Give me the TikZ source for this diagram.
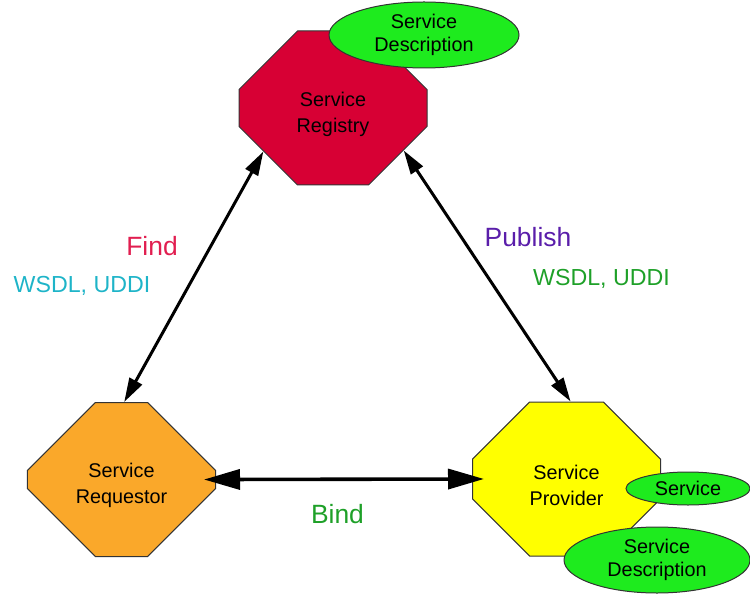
\documentclass[tikz,border=0pt]{standalone}
\usepackage{fontspec}
\setmainfont{Liberation Sans}
\usepackage{tikz}
\usetikzlibrary{shapes.misc,shapes.geometric,arrows.meta}

\definecolor{regred}{RGB}{215,0,52}
\definecolor{reqorange}{RGB}{250,168,42}
\definecolor{provyellow}{RGB}{255,255,0}
\definecolor{descgreen}{RGB}{30,235,30}
\definecolor{findred}{RGB}{225,30,80}
\definecolor{wsdlcyan}{RGB}{30,180,200}
\definecolor{pubpurple}{RGB}{90,30,170}
\definecolor{bindgreen}{RGB}{30,160,40}

% the octagon keeps its shape from a blank two-line box, the text sits in a label
\newcommand{\octabox}[1]{\phantom{Service}\\\phantom{#1}}

\tikzset{
  octa/.style={chamfered rectangle, chamfered rectangle xsep=13.75mm,
    chamfered rectangle ysep=12mm, draw=black!80, line width=0.25mm,
    minimum width=47mm, minimum height=38.5mm, inner sep=0pt, align=center,
    font=\fontsize{14.1}{18.4}\selectfont},
  octatext/.style={align=center, yshift=-1.5mm,
    font=\fontsize{14.1}{18.4}\selectfont},
  desc/.style={ellipse, draw=black!80, line width=0.25mm, fill=descgreen,
    inner sep=0pt, align=center, font=\fontsize{14.1}{16}\selectfont},
  link/.style={line width=0.75mm,
    {Triangle[length=6mm,width=3.5mm]}-{Triangle[length=6mm,width=3.5mm]}},
  bindlink/.style={line width=0.9mm, shorten <=-3mm, shorten >=-3mm,
    {Triangle[length=9mm,width=5mm]}-{Triangle[length=9mm,width=5mm]}},
  verb/.style={anchor=base, font=\fontsize{18.8}{22}\selectfont},
  proto/.style={anchor=base, font=\fontsize{16.5}{20}\selectfont}
}

\begin{document}
\begin{tikzpicture}
  [
    x=0.25mm,
    y=0.25mm
  ]
    \path[use as bounding box] (0,0) rectangle (750,599);
    %\draw (0,0) rectangle (750,599);
    \node[octa, fill=regred, label={[octatext]center:Service\\Registry}] (registry) at (333,491) {\octabox{Registry}};
    \node[octa, fill=reqorange, label={[octatext]center:Service\\Requestor}] (requestor) at (121.5,119.5) {\octabox{Requestor}};
    \node[octa, fill=provyellow, label={[octatext]center:Service\\Provider}] (provider) at (566.5,120) {\octabox{Provider}};
    \node[desc, minimum width=47.5mm, minimum height=16.5mm] (regdesc) at (424,564) {Service\\Description};
    \node[desc, minimum width=31mm, minimum height=8.25mm] (service) at (688,110.5) {Service};
    \node[desc, minimum width=46.5mm, minimum height=16.5mm] (provdesc) at (657,39) {Service\\Description};

    \draw[link] (registry.212.6) -- (requestor.88.9);
    \draw[link] (registry.329.7) -- (provider.87.3);
    \draw[bindlink] (requestor.east) -- (provider.west);

    \node[verb, text=findred] (find) at (152,343) {Find};
    \node[proto, text=wsdlcyan] (findproto) at (82,307) {WSDL, UDDI};
    \node[verb, text=pubpurple] (publish) at (528,352) {Publish};
    \node[proto, text=bindgreen] (pubproto) at (601.5,313) {WSDL, UDDI};
    \node[verb, text=bindgreen] (bind) at (337.5,76) {Bind};
  \end{tikzpicture}
\end{document}
